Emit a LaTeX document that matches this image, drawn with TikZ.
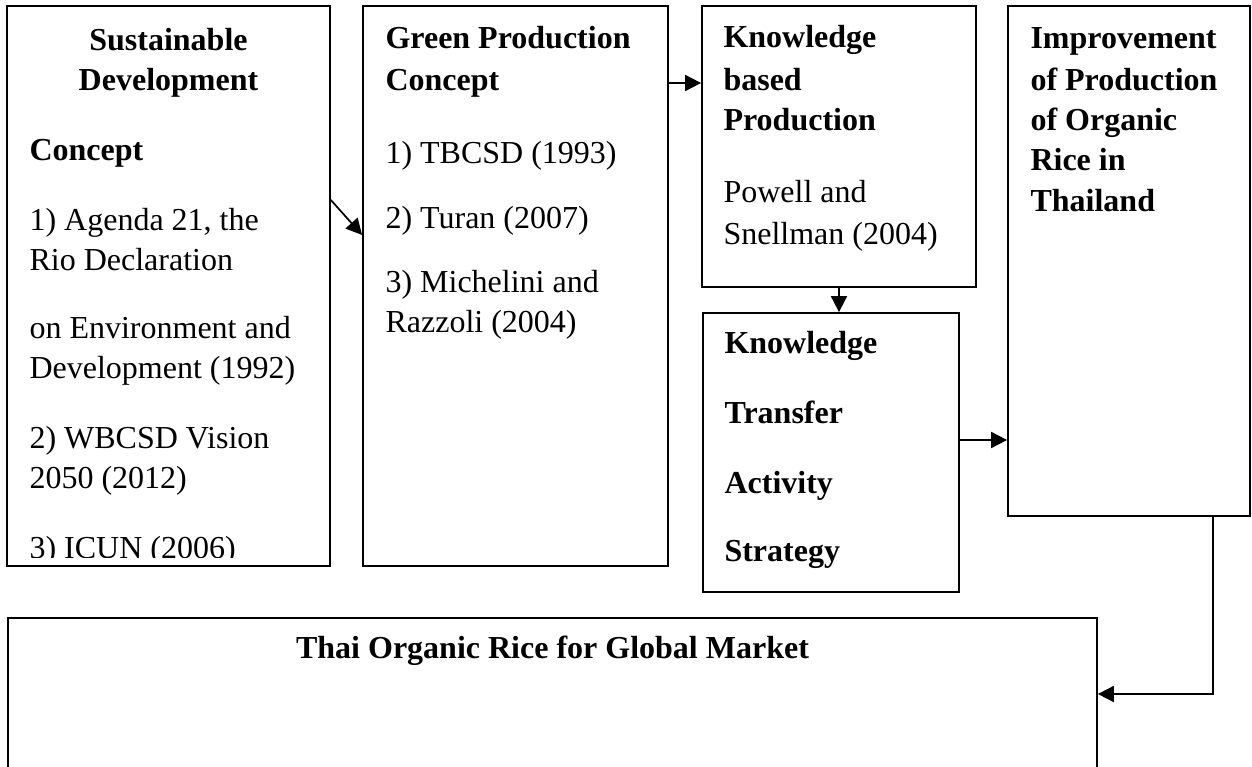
\documentclass[tikz,border=0pt]{standalone}
\usepackage{fontspec}
\setmainfont{Liberation Serif}
\usetikzlibrary{arrows.meta,fit}

\tikzset{
  box/.style={draw, rectangle, line width=0.65pt, inner sep=0pt},
  txt/.style={inner sep=0pt, align=left, anchor=north west, font=\fontsize{12}{15}\selectfont},
  arr/.style={line width=0.65pt, -{Triangle[length=6pt,width=6pt]}}
}

\begin{document}
\begin{tikzpicture}[x=0.375pt, y=-0.375pt]
\clip (0,0) rectangle (1252,767);

% boxes
\node[box, fit={(7,6) (330,566)}] (sus) {};
\node[box, fit={(363,6) (668,566)}] (gpc) {};
\node[box, fit={(702,6) (976,287)}] (kbp) {};
\node[box, fit={(703,313) (959,592)}] (kta) {};
\node[box, fit={(1008,6) (1250,516)}] (imp) {};
\node[box, fit={(8,618) (1097,800)}] (mkt) {};

% texts
\node[txt, anchor=north, align=center] (sus-t) at (168.5,28) {\textbf{Sustainable}\\\textbf{Development}};
\begin{scope}
\clip (7,6) rectangle (330,557);
\node[txt] (sus-b) at (29,139) {\textbf{Concept}\\[11.25pt]
  1) Agenda 21, the\\ Rio Declaration\\[10.5pt]
  on Environment and\\ Development (1992)\\[11.25pt]
  2) WBCSD Vision\\ 2050 (2012)\\[11.25pt]
  3) ICUN (2006)};
\end{scope}
\node[txt] (gpc-t) at (385,26) {\textbf{Green Production}\\[0.75pt]\textbf{Concept}\\[12.4pt]
  1) TBCSD (1993)\\[9.4pt] 2) Turan (2007)\\[9pt] 3) Michelini and\\ Razzoli (2004)};
\node[txt] (kbp-t) at (723,25) {\textbf{Knowledge}\\[1pt]\textbf{based}\\\textbf{Production}\\[12pt]
  Powell and\\[0.75pt] Snellman (2004)};
\node[txt] (kta-t) at (724,331) {\textbf{Knowledge}\\[11pt]\textbf{Transfer}\\[11.25pt]\textbf{Activity}\\[10.5pt]\textbf{Strategy}};
\node[txt] (imp-t) at (1030,27) {\textbf{Improvement}\\[0.75pt]\textbf{of Production}\\\textbf{of Organic}\\\textbf{Rice in}\\[0.4pt]\textbf{Thailand}};
\node[txt, anchor=north] (mkt-t) at (552.5,635) {\textbf{Thai Organic Rice for Global Market}};

% arrows
\draw[arr] (sus.east |- 0,200) -- (gpc.west |- 0,235);
\draw[arr] (gpc.east |- 0,83) -- (kbp.west |- 0,83);
\draw[arr] (kbp.south) -- (kbp.south |- kta.north);
\draw[arr] (kta.east |- 0,440) -- (imp.west |- 0,440);
\draw[arr] (imp.south -| 1213,0) |- (mkt.east |- 0,694);
\end{tikzpicture}
\end{document}
